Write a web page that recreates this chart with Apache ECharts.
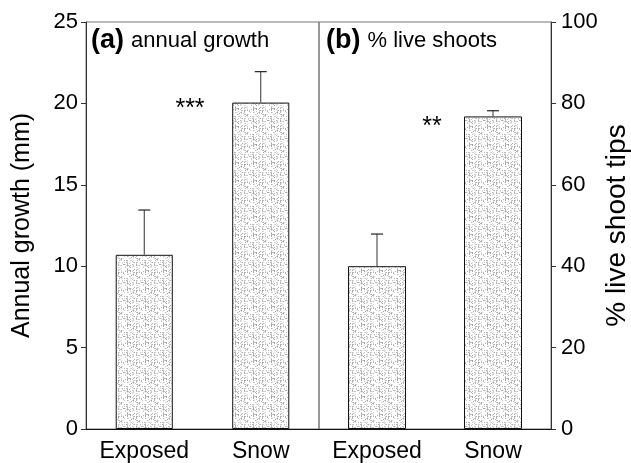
<!DOCTYPE html>
<html>
<head>
<meta charset="utf-8">
<script src="https://cdn.jsdelivr.net/npm/echarts@6/dist/echarts.min.js"></script>
<style>html,body{margin:0;padding:0;background:#fff}#c{width:631px;height:463px}</style>
</head>
<body>
<div id="c"></div>
<script>
const categories = ['Exposed', 'Snow'];
const growthMean = [10.7, 20.05];
const growthErr = [2.75, 1.9];
const liveMean = [40.0, 76.8];
const liveErr = [7.9, 1.4];
const leftTicks = [0, 5, 10, 15, 20, 25];
const rightTicks = [0, 20, 40, 60, 80, 100];

// stipple texture tile
function makeTile() {
  const c = document.createElement('canvas');
  c.width = 18; c.height = 18;
  const g = c.getContext('2d');
  g.fillStyle = '#ffffff'; g.fillRect(0, 0, 18, 18);
  let s = 987;
  function h() { s = (s * 1103515245 + 12345) & 0x7fffffff; return s / 0x7fffffff; }
  for (let y = 0; y < 18; y++) {
    for (let x = 0; x < 18; x++) {
      const col = (x % 3 === 1) ? 0.55 : 0.18;
      if (h() < col) {
        const v = Math.floor(160 + h() * 60);
        g.fillStyle = 'rgb(' + v + ',' + v + ',' + v + ')';
        g.fillRect(x, y, 1, 1);
      }
    }
  }
  return c;
}
const pattern = { image: makeTile(), repeat: 'repeat' };

const FONT = 'Liberation Sans, Arial, sans-serif';

function errRender(params, api) {
  const i = api.value(0), v = api.value(1), e = api.value(2);
  const p0 = api.coord([i, v]);
  const p1 = api.coord([i, v + e]);
  return {
    type: 'group',
    children: [
      { type: 'line', shape: { x1: p0[0], y1: p0[1], x2: p1[0], y2: p1[1] }, style: { stroke: '#333', lineWidth: 1 } },
      { type: 'line', shape: { x1: p1[0] - 6, y1: p1[1], x2: p1[0] + 6, y2: p1[1] }, style: { stroke: '#222', lineWidth: 1.2 } }
    ]
  };
}

function xAxisCfg(idx) {
  return {
    type: 'category', gridIndex: idx, data: categories,
    axisLine: { lineStyle: { color: '#111', width: 1 } },
    axisTick: { alignWithLabel: true, length: 5, lineStyle: { color: '#111' } },
    axisLabel: { fontSize: 23, color: '#000', fontFamily: FONT, margin: 11, interval: 0, hideOverlap: false }
  };
}

const option = {
  animation: false,
  backgroundColor: '#fff',
  grid: [
    { left: 86, top: 22, width: 233, height: 407, show: true, borderColor: '#777', borderWidth: 1, backgroundColor: 'transparent', outerBoundsMode: 'none', containLabel: false },
    { left: 319, top: 22, width: 232, height: 407, show: true, borderColor: '#777', borderWidth: 1, backgroundColor: 'transparent', outerBoundsMode: 'none', containLabel: false }
  ],
  xAxis: [xAxisCfg(0), xAxisCfg(1)],
  yAxis: [
    {
      type: 'value', gridIndex: 0, min: leftTicks[0], max: leftTicks[leftTicks.length - 1], interval: 5,
      position: 'left',
      name: 'Annual growth (mm)', nameLocation: 'middle', nameRotate: 90, nameGap: 51,
      nameTextStyle: { fontSize: 25, color: '#000', fontFamily: FONT },
      axisLine: { show: true, lineStyle: { color: '#333' } },
      axisTick: { show: true, length: 5, lineStyle: { color: '#333' } },
      axisLabel: { fontSize: 22, color: '#000', fontFamily: FONT, margin: 8 },
      splitLine: { show: false }
    },
    {
      type: 'value', gridIndex: 1, min: rightTicks[0], max: rightTicks[rightTicks.length - 1], interval: 20,
      position: 'right',
      name: '% live shoot tips', nameLocation: 'middle', nameRotate: 90, nameGap: 52,
      nameTextStyle: { fontSize: 28, color: '#000', fontFamily: FONT },
      axisLine: { show: true, lineStyle: { color: '#333' } },
      axisTick: { show: true, length: 5, lineStyle: { color: '#333' } },
      axisLabel: { fontSize: 22, color: '#000', fontFamily: FONT, margin: 10 },
      splitLine: { show: false }
    }
  ],
  series: [
    {
      type: 'bar', xAxisIndex: 0, yAxisIndex: 0, data: growthMean, barWidth: '49%',
      itemStyle: { color: pattern, borderColor: '#111', borderWidth: 1 }
    },
    {
      type: 'custom', xAxisIndex: 0, yAxisIndex: 0, renderItem: errRender,
      data: growthMean.map((v, i) => [i, v, growthErr[i]]), z: 5
    },
    {
      type: 'bar', xAxisIndex: 1, yAxisIndex: 1, data: liveMean, barWidth: '50%',
      itemStyle: { color: pattern, borderColor: '#111', borderWidth: 1 }
    },
    {
      type: 'custom', xAxisIndex: 1, yAxisIndex: 1, renderItem: errRender,
      data: liveMean.map((v, i) => [i, v, liveErr[i]]), z: 5
    }
  ],
  graphic: [
    {
      type: 'text', left: 91, top: 27,
      style: {
        text: '{b|(a)}{n|annual growth}',
        rich: {
          b: { fontSize: 27, fontWeight: 'bold', fontFamily: FONT, fill: '#000', padding: [0, 7, 0, 0] },
          n: { fontSize: 22, fontFamily: FONT, fill: '#000' }
        }
      }
    },
    {
      type: 'text', left: 326, top: 27,
      style: {
        text: '{b|(b)}{n|% live shoots}',
        rich: {
          b: { fontSize: 27, fontWeight: 'bold', fontFamily: FONT, fill: '#000', padding: [0, 7, 0, 0] },
          n: { fontSize: 22, fontFamily: FONT, fill: '#000' }
        }
      }
    },
    { type: 'text', x: 190, y: 109, style: { text: '***', fontSize: 25, fontFamily: FONT, fill: '#000', align: 'center', verticalAlign: 'middle' } },
    { type: 'text', x: 432, y: 127, style: { text: '**', fontSize: 25, fontFamily: FONT, fill: '#000', align: 'center', verticalAlign: 'middle' } }
  ]
};

const chart = echarts.init(document.getElementById('c'), null, { renderer: 'canvas' });
chart.setOption(option);
</script>
</body>
</html>
